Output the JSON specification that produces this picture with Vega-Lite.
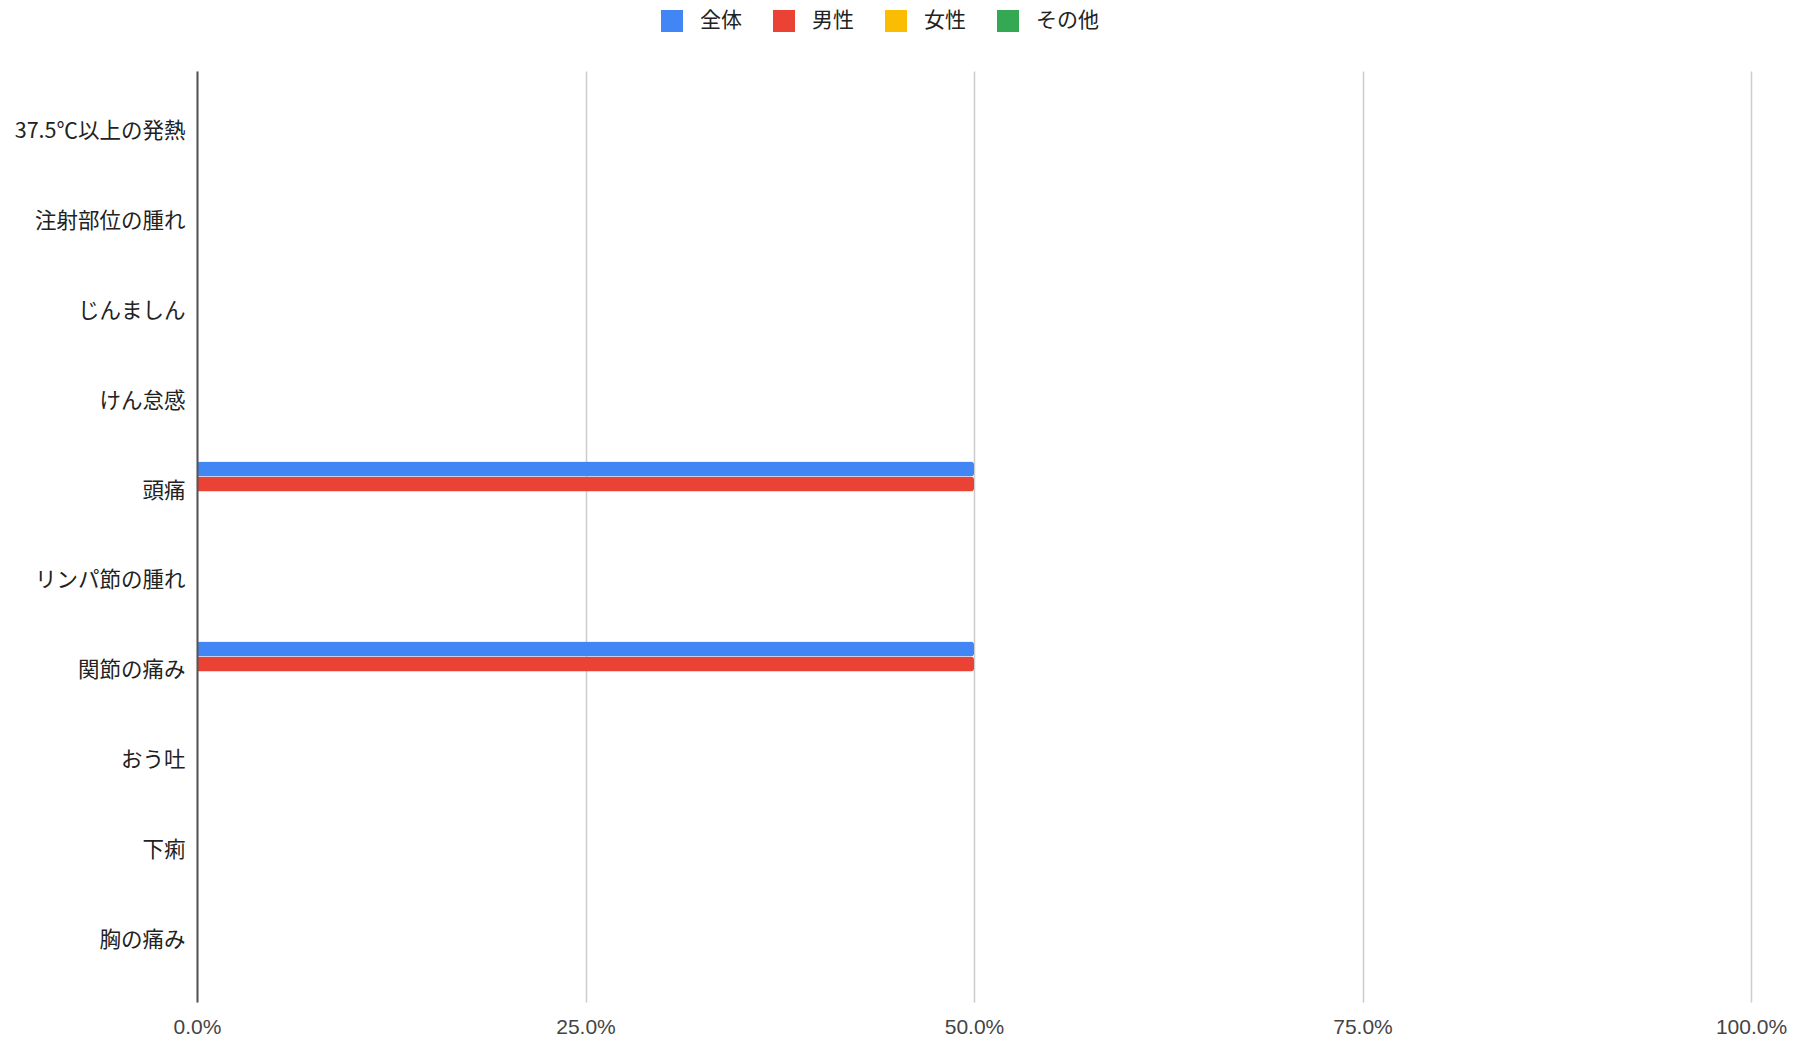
{
  "$schema": "https://vega.github.io/schema/vega-lite/v6.json",
  "autosize": {"type": "none"},
  "padding": {"left": 197, "top": 71, "right": 53, "bottom": 37},
  "width": 1554,
  "height": 931,
  "background": "white",
  "config": {
    "view": {"stroke": null},
    "font": "Liberation Sans, Noto Sans CJK JP"
  },
  "data": {
    "values": [
      {"symptom": "37.5℃以上の発熱", "series": "全体", "value": 0},
      {"symptom": "37.5℃以上の発熱", "series": "男性", "value": 0},
      {"symptom": "37.5℃以上の発熱", "series": "女性", "value": 0},
      {"symptom": "37.5℃以上の発熱", "series": "その他", "value": 0},
      {"symptom": "注射部位の腫れ", "series": "全体", "value": 0},
      {"symptom": "注射部位の腫れ", "series": "男性", "value": 0},
      {"symptom": "注射部位の腫れ", "series": "女性", "value": 0},
      {"symptom": "注射部位の腫れ", "series": "その他", "value": 0},
      {"symptom": "じんましん", "series": "全体", "value": 0},
      {"symptom": "じんましん", "series": "男性", "value": 0},
      {"symptom": "じんましん", "series": "女性", "value": 0},
      {"symptom": "じんましん", "series": "その他", "value": 0},
      {"symptom": "けん怠感", "series": "全体", "value": 0},
      {"symptom": "けん怠感", "series": "男性", "value": 0},
      {"symptom": "けん怠感", "series": "女性", "value": 0},
      {"symptom": "けん怠感", "series": "その他", "value": 0},
      {"symptom": "頭痛", "series": "全体", "value": 0.5},
      {"symptom": "頭痛", "series": "男性", "value": 0.5},
      {"symptom": "頭痛", "series": "女性", "value": 0},
      {"symptom": "頭痛", "series": "その他", "value": 0},
      {"symptom": "リンパ節の腫れ", "series": "全体", "value": 0},
      {"symptom": "リンパ節の腫れ", "series": "男性", "value": 0},
      {"symptom": "リンパ節の腫れ", "series": "女性", "value": 0},
      {"symptom": "リンパ節の腫れ", "series": "その他", "value": 0},
      {"symptom": "関節の痛み", "series": "全体", "value": 0.5},
      {"symptom": "関節の痛み", "series": "男性", "value": 0.5},
      {"symptom": "関節の痛み", "series": "女性", "value": 0},
      {"symptom": "関節の痛み", "series": "その他", "value": 0},
      {"symptom": "おう吐", "series": "全体", "value": 0},
      {"symptom": "おう吐", "series": "男性", "value": 0},
      {"symptom": "おう吐", "series": "女性", "value": 0},
      {"symptom": "おう吐", "series": "その他", "value": 0},
      {"symptom": "下痢", "series": "全体", "value": 0},
      {"symptom": "下痢", "series": "男性", "value": 0},
      {"symptom": "下痢", "series": "女性", "value": 0},
      {"symptom": "下痢", "series": "その他", "value": 0},
      {"symptom": "胸の痛み", "series": "全体", "value": 0},
      {"symptom": "胸の痛み", "series": "男性", "value": 0},
      {"symptom": "胸の痛み", "series": "女性", "value": 0},
      {"symptom": "胸の痛み", "series": "その他", "value": 0}
    ]
  },
  "mark": {"type": "bar", "cornerRadiusEnd": 3},
  "encoding": {
    "y": {
      "field": "symptom",
      "type": "nominal",
      "sort": null,
      "scale": {"paddingInner": 0.3333, "paddingOuter": 0.339},
      "axis": {
        "title": null,
        "ticks": false,
        "grid": false,
        "domain": true,
        "domainColor": "#555555",
        "domainWidth": 2,
        "labelFontSize": 21.5,
        "labelColor": "#222222",
        "labelPadding": 12,
        "labelFont": "Noto Sans CJK JP",
        "zindex": 2
      }
    },
    "yOffset": {
      "field": "series",
      "type": "nominal",
      "sort": ["全体", "男性", "女性", "その他"]
    },
    "x": {
      "field": "value",
      "type": "quantitative",
      "scale": {"domain": [0, 1], "nice": false},
      "axis": {
        "title": null,
        "values": [0, 0.25, 0.5, 0.75, 1],
        "format": ".1%",
        "ticks": false,
        "domain": false,
        "grid": true,
        "gridColor": "#cccccc",
        "gridWidth": 1.5,
        "labelFontSize": 21,
        "labelColor": "#444444",
        "labelPadding": 14,
        "labelFlush": false,
        "labelFont": "Liberation Sans"
      }
    },
    "color": {
      "field": "series",
      "type": "nominal",
      "sort": ["全体", "男性", "女性", "その他"],
      "scale": {
        "domain": ["全体", "男性", "女性", "その他"],
        "range": ["#4285F4", "#EA4335", "#FBBC04", "#34A853"]
      },
      "legend": {
        "title": null,
        "orient": "none",
        "direction": "horizontal",
        "legendX": 464,
        "legendY": -61,
        "symbolType": "square",
        "symbolSize": 484,
        "symbolStrokeWidth": 0,
        "labelFontSize": 21,
        "labelColor": "#222222",
        "labelFont": "Noto Sans CJK JP",
        "labelOffset": 17,
        "columnPadding": 31
      }
    }
  }
}
